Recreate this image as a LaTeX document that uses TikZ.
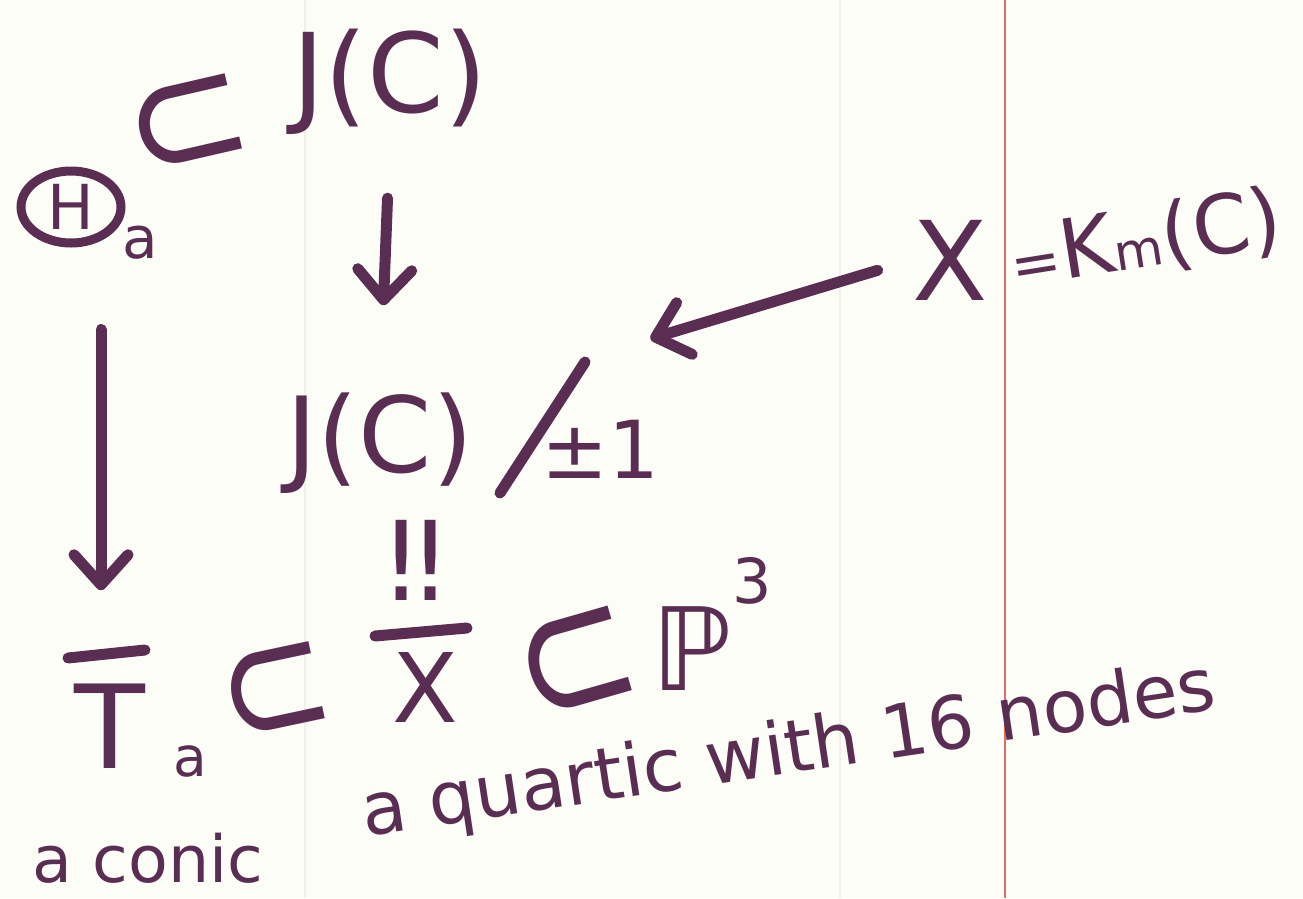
\documentclass[tikz,border=0pt]{standalone}
\usepackage{fontspec}
\setmainfont{DejaVu Sans}
\usetikzlibrary{arrows.meta,shapes.geometric}
\definecolor{ink}{HTML}{5A2D52}
\definecolor{margin}{HTML}{DE6F5C}
\definecolor{paper}{HTML}{FDFDF8}
\definecolor{rulecol}{HTML}{F0F0E8}
\newcommand{\myfs}[1]{\fontsize{#1}{#1}\selectfont}
\tikzset{
  lbl/.style={text=ink, inner sep=0pt, anchor=base},
  sym/.style={text=ink, inner sep=0pt, anchor=center},
  stroke/.style={draw=ink, line width=11pt, line cap=round, line join=round},
  arr/.style={stroke, -{Straight Barb[length=30pt,width=54pt,round]}},
}
\begin{document}
\begin{tikzpicture}[x=1pt,y=-1pt]
\fill[paper] (0,0) rectangle (1303,898);
\useasboundingbox (0,0) rectangle (1303,898);
\draw[rulecol, line width=1.5pt] (305,0) -- (305,898);
\draw[rulecol, line width=1.5pt] (840,0) -- (840,898);
\draw[margin, line width=2.5pt] (1005,0) -- (1005,898);

% top row
\node[lbl, font=\myfs{110}] (JC) at (390,112) {J(C)};
\node[sym, font=\myfs{150}, rotate=13, yscale=1.1] (sub1) at (189,128) {⊂};
\node[text=ink, draw=ink, line width=9pt, ellipse, minimum width=100pt, minimum height=72pt, inner sep=0pt, font=\myfs{62}] (H) at (71,207) {H};
\node[lbl, font=\myfs{58}] (Ha) at (140,258) {a};

% middle
\node[lbl, font=\myfs{105}] (JCq) at (380,472) {J(C)};
\coordinate (sl1) at (500,493);
\coordinate (sl2) at (585,362);
\draw[stroke] (sl1) -- (sl2);
\node[lbl, font=\myfs{80}] (pm) at (600,478) {±1};
\node[lbl, font=\myfs{110}] (X) at (950,300) {X};
\node[lbl, font=\myfs{82}, rotate=9] (km) at (1150,266) {{\myfs{60}=}K{\myfs{50}m}(C)};

% bottom
\node[lbl, font=\myfs{110}] (eqv) at (416,600) {!\kern-16pt!};
\node[lbl, font=\myfs{96}] (Xb) at (425,722) {X};
\draw[stroke] (375,636) -- (467,628);
\node[sym, font=\myfs{145}, rotate=16, yscale=1.3] (sub3) at (578,668) {⊂};
\node[lbl, font=\myfs{115}] (P) at (692,690) {ℙ};
\node[lbl, font=\myfs{62}] (three) at (752,603) {3};
\node[lbl, font=\myfs{116}] (T) at (110,768) {T};
\draw[stroke] (68,658) -- (145,650);
\node[lbl, font=\myfs{55}] (Tsub) at (190,776) {a};
\node[sym, font=\myfs{135}, rotate=12, yscale=1.25] (sub2) at (276,696) {⊂};
\node[lbl, font=\myfs{65}] (conic) at (148,882) {a conic};
\node[lbl, font=\myfs{73}, rotate=8.5] (quartic) at (792,773) {a quartic with 16 nodes};

% arrows
\draw[arr, shorten <=64pt, shorten >=87pt] (JC.south) -- (JCq.north);
\draw[arr, shorten <=82pt, shorten >=93pt] ([xshift=30pt]H.south) -- ([xshift=30pt]H.south |- T.north);
\draw[arr, shorten <=36pt, shorten >=185pt] (X.west) -- (JCq.north east);
\end{tikzpicture}
\end{document}
